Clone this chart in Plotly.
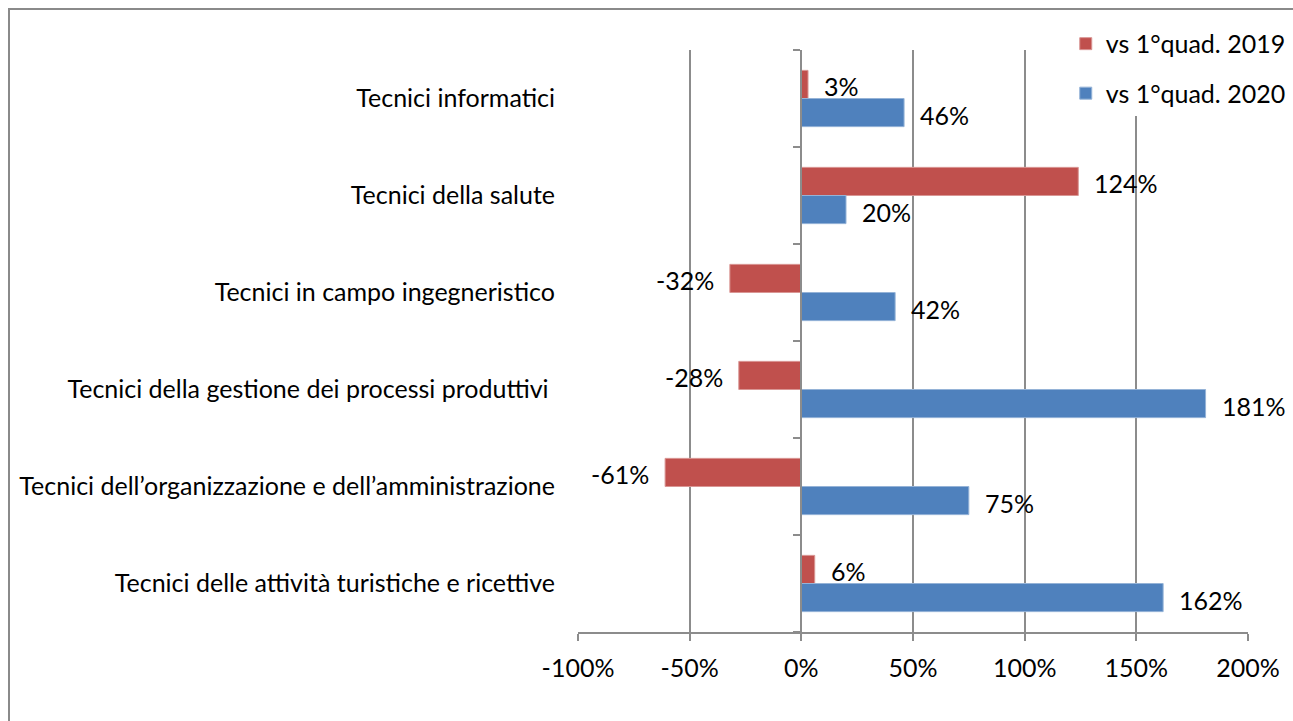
import plotly.graph_objects as go

# Categories listed top to bottom
categories = [
    "Tecnici informatici",
    "Tecnici della salute",
    "Tecnici in campo ingegneristico",
    "Tecnici della gestione dei processi produttivi\u00a0",
    "Tecnici dell\u2019organizzazione e dell\u2019amministrazione",
    "Tecnici delle attività turistiche e ricettive",
]
series_names = ["vs 1°quad. 2019", "vs 1°quad. 2020"]
vs_2019 = [0.03, 1.24, -0.32, -0.28, -0.61, 0.06]
vs_2020 = [0.46, 0.20, 0.42, 1.81, 0.75, 1.62]
x_ticks = [-1.0, -0.5, 0.0, 0.5, 1.0, 1.5, 2.0]
x_tick_labels = ["-100%", "-50%", "0%", "50%", "100%", "150%", "200%"]

RED = "#C0504D"
BLUE = "#4F81BD"
GRID = "#8C8C8C"
FONT = "Lato"
FS = 25

W, H = 1293, 721
ML, MR, MT, MB = 578, 45, 50, 89
n = len(categories)
ypos = [n - 1 - i for i in range(n)]  # top category gets the highest position
bw = 0.29

fig = go.Figure()
fig.add_trace(go.Bar(
    y=ypos, x=vs_2019, orientation="h", name=series_names[0],
    width=bw, offset=0, marker=dict(color=RED, line=dict(color="#D99694", width=1)),
    legendgroup="a", hoverinfo="x",
))
fig.add_trace(go.Bar(
    y=ypos, x=vs_2020, orientation="h", name=series_names[1],
    width=bw, offset=-bw, marker=dict(color=BLUE, line=dict(color="#95B3D7", width=1)),
    legendgroup="b", hoverinfo="x",
))
# invisible trace that carries the category axis drawn at 0%
fig.add_trace(go.Scatter(x=[0], y=[0], yaxis="y2", mode="markers",
                         marker=dict(opacity=0), showlegend=False, hoverinfo="skip"))

def pct(v):
    return f"{round(v * 100):d}%"

for vals, off in ((vs_2019, bw / 2), (vs_2020, -bw / 2)):
    for yp, v in zip(ypos, vals):
        fig.add_annotation(
            x=v, y=yp + off, text=pct(v), showarrow=False,
            xanchor="left" if v >= 0 else "right",
            xshift=14 if v >= 0 else -14, yshift=-2,
            font=dict(family=FONT, size=FS, color="black"),
        )

fig.update_layout(
    width=W, height=H,
    margin=dict(l=ML, r=MR, t=MT, b=MB, autoexpand=False),
    paper_bgcolor="white", plot_bgcolor="white",
    barmode="overlay",
    font=dict(family=FONT, size=FS, color="black"),
    showlegend=True,
    legend=dict(
        x=0.728, y=1.05, xanchor="left", yanchor="top",
        bgcolor="white", traceorder="grouped", tracegroupgap=14,
        font=dict(family=FONT, size=FS, color="black"),
    ),
    xaxis=dict(
        range=[-1, 2], tickvals=x_ticks, ticktext=x_tick_labels,
        showgrid=True, gridcolor=GRID, gridwidth=2,
        showline=True, linecolor=GRID, linewidth=2,
        ticks="outside", ticklen=7, tickwidth=2, tickcolor=GRID,
        zeroline=False, ticklabelstandoff=6, automargin=False,
    ),
    yaxis=dict(
        range=[-0.5, n - 0.5], tickvals=ypos, ticktext=categories,
        showgrid=False, zeroline=False, showline=False, ticks="",
        ticklabelstandoff=22, automargin=False,
    ),
    yaxis2=dict(
        range=[-0.5, n - 0.5], overlaying="y", anchor="free", position=1 / 3,
        side="left", showgrid=False, zeroline=False,
        showline=True, linecolor=GRID, linewidth=2,
        tickvals=[i - 0.5 for i in range(n + 1)], ticks="outside",
        ticklen=7, tickwidth=2, tickcolor=GRID, showticklabels=False,
        automargin=False,
    ),
)

# thin frame around the whole chart
pw, ph = W - ML - MR, H - MT - MB
fig.add_shape(
    type="rect", xref="paper", yref="paper", layer="above",
    x0=(9 - ML) / pw, x1=(W + 20 - ML) / pw,
    y0=1 - (H + 20 - MT) / ph, y1=1 + (MT - 9) / ph,
    line=dict(color="#8A8A8A", width=2), fillcolor="rgba(0,0,0,0)",
)

fig.write_html("out.html")
